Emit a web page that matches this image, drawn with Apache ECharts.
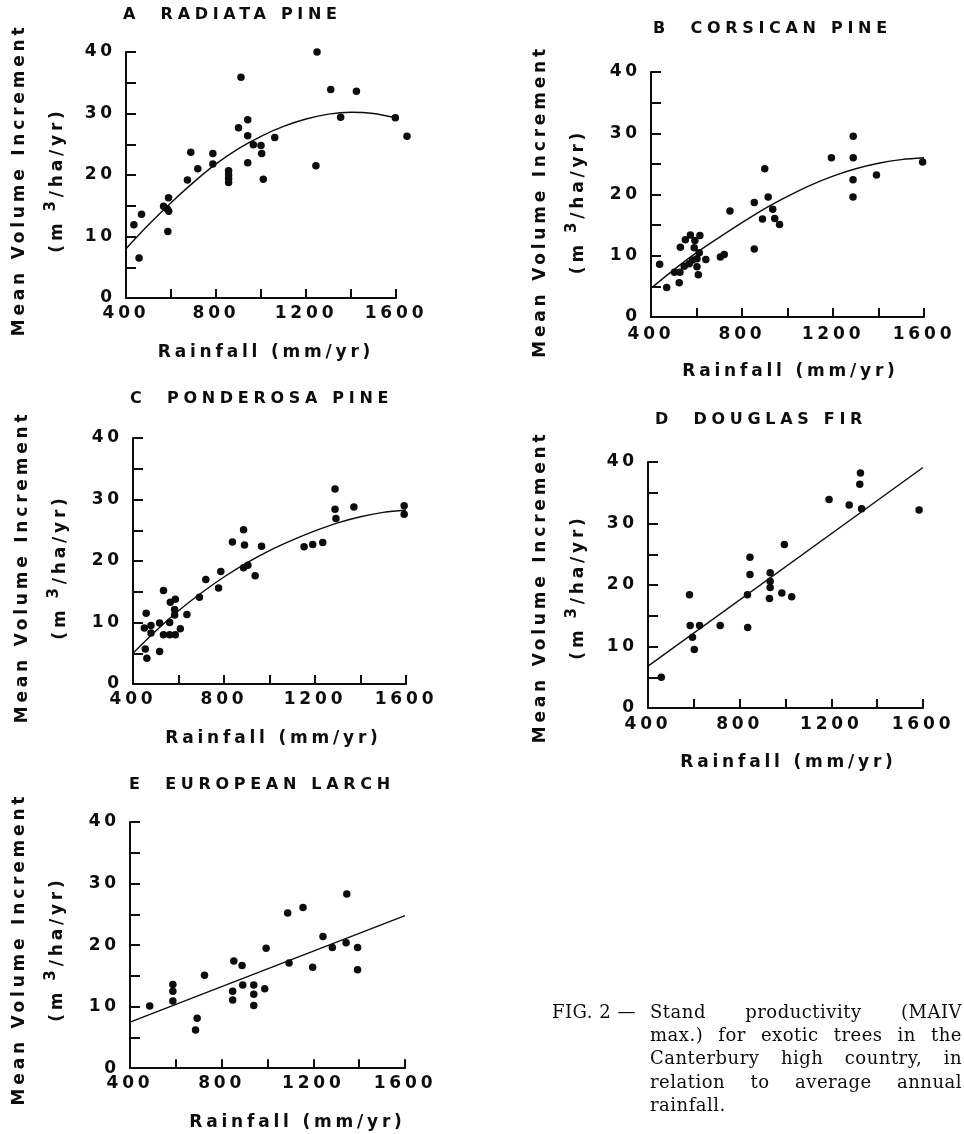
<!DOCTYPE html>
<html>
<head>
<meta charset="utf-8">
<script src="https://cdn.jsdelivr.net/npm/echarts@6/dist/echarts.min.js"></script>
<style>
  html, body { margin: 0; padding: 0; background: #fff; }
  #chart { width: 964px; height: 1134px; }
</style>
</head>
<body>
<div id="chart"></div>
<script>
// ---------------- DATA ----------------
const panelTitles = ['A  RADIATA PINE', 'B  CORSICAN PINE', 'C  PONDEROSA PINE', 'D  DOUGLAS FIR', 'E  EUROPEAN LARCH'];
const xTickLabels = [400, 800, 1200, 1600];
const yTickLabels = [0, 10, 20, 30, 40];
const xAxisName = 'Rainfall (mm/yr)';

const radiataX = [435, 469, 458, 567, 583, 589, 590, 586, 673, 688, 719, 786, 786, 856, 856, 856, 856, 900, 911, 941, 941, 941, 966, 1000, 1003, 1010, 1061, 1244, 1249, 1310, 1354, 1424, 1597, 1649];
const radiataY = [11.9, 13.6, 6.5, 14.9, 14.5, 16.3, 14.1, 10.8, 19.2, 23.7, 21.0, 23.5, 21.8, 20.7, 20.0, 19.4, 18.8, 27.7, 35.9, 29.0, 26.4, 22.0, 24.9, 24.8, 23.5, 19.3, 26.1, 21.5, 40.0, 33.9, 29.4, 33.6, 29.3, 26.3];
const radiataFitX = [400, 500, 600, 700, 800, 900, 1000, 1100, 1200, 1300, 1400, 1500, 1600];
const radiataFitY = [8.0, 11.9, 15.5, 18.8, 21.8, 24.3, 26.3, 27.9, 29.1, 29.9, 30.2, 30.0, 29.3];

const corsicanX = [438, 469, 503, 527, 524, 529, 551, 573, 593, 615, 590, 612, 546, 568, 583, 602, 602, 608, 641, 705, 722, 747, 854, 854, 890, 900, 915, 935, 944, 965, 1193, 1289, 1289, 1288, 1288, 1391, 1594];
const corsicanY = [8.6, 4.8, 7.3, 7.3, 5.6, 11.4, 12.6, 13.4, 12.5, 13.3, 11.3, 10.5, 8.3, 8.7, 9.3, 9.5, 8.2, 6.9, 9.4, 9.8, 10.2, 17.3, 18.7, 11.1, 16.0, 24.2, 19.6, 17.6, 16.1, 15.1, 26.0, 29.5, 26.0, 22.4, 19.6, 23.2, 25.3];
const corsicanFitX = [410, 500, 600, 700, 800, 900, 1000, 1100, 1200, 1300, 1400, 1500, 1600];
const corsicanFitY = [5.0, 7.7, 10.5, 13.0, 15.4, 17.7, 19.7, 21.5, 23.0, 24.2, 25.1, 25.7, 26.0];

const ponderosaX = [450, 458, 454, 461, 479, 479, 517, 517, 534, 534, 561, 586, 564, 586, 561, 583, 583, 608, 637, 692, 720, 776, 786, 837, 886, 890, 886, 905, 937, 965, 1152, 1190, 1234, 1288, 1288, 1292, 1371, 1592, 1592];
const ponderosaY = [9.1, 11.5, 5.7, 4.2, 9.5, 8.3, 9.9, 5.3, 15.2, 8.0, 8.0, 8.0, 13.3, 13.8, 10.0, 12.1, 11.2, 9.0, 11.3, 14.1, 17.0, 15.6, 18.3, 23.1, 25.1, 22.6, 18.9, 19.3, 17.6, 22.4, 22.3, 22.7, 23.0, 31.7, 28.4, 26.9, 28.8, 29.0, 27.6];
const ponderosaFitX = [400, 500, 600, 700, 800, 900, 1000, 1100, 1200, 1300, 1400, 1500, 1600];
const ponderosaFitY = [5.0, 8.6, 11.9, 14.8, 17.4, 19.7, 21.7, 23.4, 24.9, 26.2, 27.2, 27.9, 28.3];

const douglasX = [458, 581, 584, 594, 602, 625, 715, 834, 835, 845, 845, 933, 933, 933, 930, 984, 995, 1027, 1190, 1278, 1327, 1324, 1332, 1583];
const douglasY = [5.0, 18.4, 13.4, 11.5, 9.5, 13.4, 13.4, 18.4, 13.1, 21.7, 24.5, 22.0, 20.6, 19.6, 17.8, 18.7, 26.6, 18.1, 33.9, 33.0, 38.2, 36.4, 32.4, 32.2];
const douglasFitX = [400, 1600];
const douglasFitY = [6.8, 39.1];

const larchX = [486, 587, 587, 587, 686, 693, 725, 853, 848, 848, 889, 892, 940, 940, 940, 988, 994, 1088, 1094, 1155, 1197, 1242, 1283, 1346, 1343, 1393, 1393];
const larchY = [10.1, 13.6, 12.5, 10.9, 6.2, 8.1, 15.1, 17.4, 12.5, 11.1, 16.7, 13.5, 13.5, 12.0, 10.2, 12.9, 19.5, 25.2, 17.1, 26.1, 16.4, 21.4, 19.6, 28.3, 20.4, 19.6, 16.0];
const larchFitX = [400, 1600];
const larchFitY = [7.5, 24.8];

const captionLabel = 'FIG. 2 —';
const captionLines = ['Stand productivity (MAIV', 'max.) for exotic trees in the', 'Canterbury high country, in', 'relation to average annual', 'rainfall.'];

// ---------------- letter spacing for the tracked lettering ----------------
(function () {
  const P = CanvasRenderingContext2D.prototype;
  if (!('letterSpacing' in P)) return;
  function spacingFor(font) {
    if (/Serif/i.test(font)) return '0.5px';
    const m = /(\d+(?:\.\d+)?)px/.exec(font);
    const size = m ? parseFloat(m[1]) : 12;
    if (size >= 17) return '3.8px';
    if (size >= 16) return '4.7px';
    return '0px';
  }
  const f = P.fillText, mt = P.measureText;
  P.fillText = function (t, x, y, w) {
    this.letterSpacing = spacingFor(this.font);
    return w === undefined ? f.call(this, t, x, y) : f.call(this, t, x, y, w);
  };
  P.measureText = function (t) {
    this.letterSpacing = spacingFor(this.font);
    return mt.call(this, t);
  };
})();

// ---------------- LAYOUT / STYLE ----------------
const INK = '#0d0d0d';
const SANS = 'DejaVu Sans';
const grids = [
  { left: 123, top: 52, width: 273, height: 246 },
  { left: 651, top: 72, width: 273, height: 245 },
  { left: 133, top: 438, width: 273, height: 246 },
  { left: 648, top: 462, width: 275, height: 246 },
  { left: 129, top: 822, width: 276, height: 248 }
];
const yNameGap = [49, 53, 53, 50, 53];
const yNameShift = [5, 7, 6, 2, 4];
const xNamePad = [10, 6, 8, 6, 60];
const xLabelMargin = [5, 7, 5, 6, 5];
const titlePos = [[123, 15], [653, 29], [130, 399], [655, 420], [129, 785]];

const sets = [
  [radiataX, radiataY, radiataFitX, radiataFitY],
  [corsicanX, corsicanY, corsicanFitX, corsicanFitY],
  [ponderosaX, ponderosaY, ponderosaFitX, ponderosaFitY],
  [douglasX, douglasY, douglasFitX, douglasFitY],
  [larchX, larchY, larchFitX, larchFitY]
];
const zip = (a, b) => a.map((v, i) => [v, b[i]]);

const axisLineStyle = { color: INK, width: 2 };
const xAxes = [], yAxes = [], series = [], graphics = [];

grids.forEach((g, i) => {
  xAxes.push({
    gridIndex: i, type: 'value', min: 400, max: 1600, interval: 200,
    name: xAxisName, nameLocation: 'middle', nameGap: 44,
    nameTextStyle: { color: INK, fontFamily: SANS, fontWeight: 'bold', fontSize: 17, padding: [0, 0, 0, xNamePad[i]] },
    axisLine: { onZero: false, lineStyle: axisLineStyle },
    axisTick: { inside: true, length: 9, lineStyle: { color: INK, width: 2 } },
    axisLabel: {
      margin: xLabelMargin[i], color: INK, fontFamily: SANS, fontWeight: 'bold', fontSize: 17,
      formatter: v => (xTickLabels.indexOf(v) >= 0 ? String(v) : '')
    },
    splitLine: { show: false }
  });
  yAxes.push({
    gridIndex: i, type: 'value', min: 0, max: 40, interval: 5,
    name: '{n|Mean Volume Increment}\n{u|(m}{s|3}{u|/ha/yr)}',
    nameLocation: 'middle', nameRotate: 90, nameGap: yNameGap[i],
    nameTextStyle: {
      color: INK, fontFamily: SANS, fontWeight: 'bold', fontSize: 17, lineHeight: 38,
      padding: [0, yNameShift[i] * 2, 0, 0],
      rich: {
        n: { color: INK, fontFamily: SANS, fontWeight: 'bold', fontSize: 17, lineHeight: 38 },
        u: { color: INK, fontFamily: SANS, fontWeight: 'bold', fontSize: 17, lineHeight: 38 },
        s: { color: INK, fontFamily: SANS, fontWeight: 'bold', fontSize: 15, lineHeight: 25,
             verticalAlign: 'top', padding: [5, 4, 0, 8] }
      }
    },
    axisLine: { onZero: false, lineStyle: axisLineStyle },
    axisTick: { inside: true, length: 10, lineStyle: { color: INK, width: 2 } },
    axisLabel: {
      margin: 10, color: INK, fontFamily: SANS, fontWeight: 'bold', fontSize: 17,
      formatter: v => (yTickLabels.indexOf(v) >= 0 ? String(v) : '')
    },
    splitLine: { show: false }
  });
  const s = sets[i];
  series.push({
    type: 'scatter', xAxisIndex: i, yAxisIndex: i, clip: false,
    symbol: 'circle', symbolSize: 7.5, itemStyle: { color: INK, opacity: 1 },
    data: zip(s[0], s[1]), silent: true
  });
  series.push({
    type: 'line', xAxisIndex: i, yAxisIndex: i, clip: false,
    smooth: s[2].length > 2 ? 0.35 : false, showSymbol: false, symbol: 'none',
    lineStyle: { color: INK, width: 1.4 },
    data: zip(s[2], s[3]), silent: true, z: 1
  });
  graphics.push({
    type: 'text', x: titlePos[i][0], y: titlePos[i][1],
    style: { text: panelTitles[i], font: 'bold 16px "DejaVu Sans"', fill: INK,
             align: 'left', textAlign: 'left', verticalAlign: 'middle', textVerticalAlign: 'middle' }
  });
});

// caption with justified paragraph
const CAP_FONT = '18px "DejaVu Serif"';
const capLeft = 650, capRight = 962, capTop = 1013, capPitch = 23.3;
const mctx = document.createElement('canvas').getContext('2d');
mctx.font = CAP_FONT;
graphics.push({
  type: 'text', x: 552, y: capTop,
  style: { text: captionLabel, font: CAP_FONT, fill: INK, align: 'left', textAlign: 'left', verticalAlign: 'middle', textVerticalAlign: 'middle' }
});
captionLines.forEach((line, li) => {
  const y = capTop + li * capPitch;
  const words = line.split(' ');
  if (li === captionLines.length - 1 || words.length < 2) {
    graphics.push({ type: 'text', x: capLeft, y,
      style: { text: line, font: CAP_FONT, fill: INK, align: 'left', textAlign: 'left', verticalAlign: 'middle', textVerticalAlign: 'middle' } });
    return;
  }
  const widths = words.map(w => mctx.measureText(w).width);
  const total = widths.reduce((a, b) => a + b, 0);
  const gap = (capRight - capLeft - total) / (words.length - 1);
  let x = capLeft;
  words.forEach((w, wi) => {
    graphics.push({ type: 'text', x, y,
      style: { text: w, font: CAP_FONT, fill: INK, align: 'left', textAlign: 'left', verticalAlign: 'middle', textVerticalAlign: 'middle' } });
    x += widths[wi] + gap;
  });
});

const chart = echarts.init(document.getElementById('chart'), null, { renderer: 'canvas', width: 964, height: 1134 });
chart.setOption({
  backgroundColor: '#ffffff',
  animation: false,
  grid: grids,
  xAxis: xAxes,
  yAxis: yAxes,
  series: series,
  graphic: { elements: graphics }
});
</script>
</body>
</html>
